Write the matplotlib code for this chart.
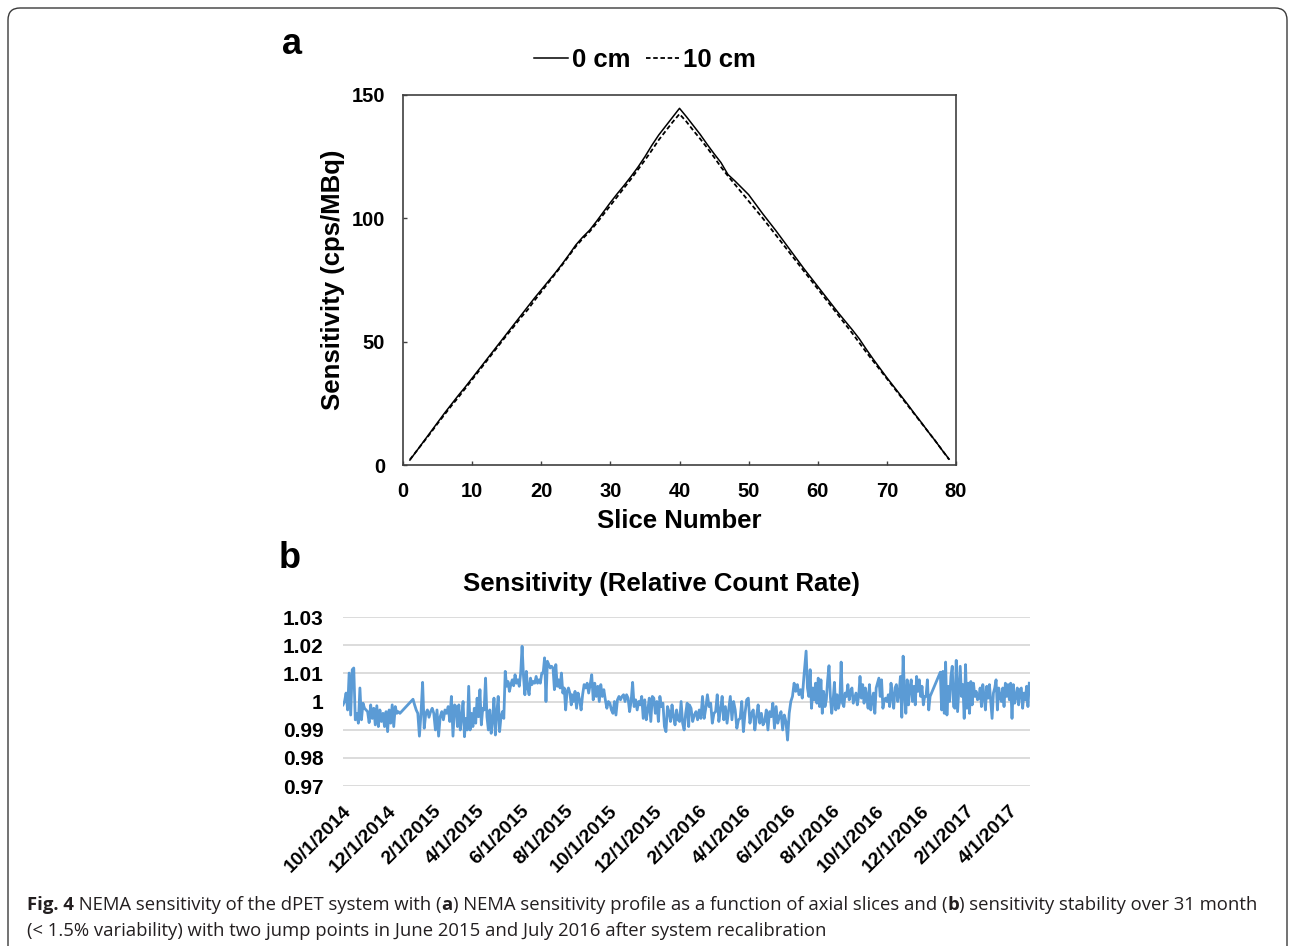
import numpy as np
import pandas as pd
import matplotlib
matplotlib.use('Agg')
import matplotlib.pyplot as plt
from matplotlib.lines import Line2D
from matplotlib.patches import FancyBboxPatch

plt.rcParams['font.family'] = ['Liberation Sans', 'DejaVu Sans']

# ---- panel a: NEMA sensitivity profile ----
slices = list(range(1, 80))
sens_0cm = [2.0, 5.8, 9.6, 13.4, 17.2, 21.0, 24.6, 28.2, 31.6, 35.2,
            38.8, 42.4, 46.0, 49.6, 53.2, 56.8, 60.4, 64.0, 67.6, 71.0,
            74.4, 77.8, 81.4, 85.2, 89.2, 92.4, 95.2, 98.8, 102.6, 106.4,
            110.0, 113.4, 117.0, 120.8, 125.0, 129.6, 133.8, 137.4, 141.0, 144.6,
            141.2, 137.6, 134.0, 130.0, 126.2, 122.6, 117.8, 115.2, 112.4, 109.6,
            105.8, 102.0, 98.4, 94.8, 91.0, 87.2, 83.4, 79.6, 76.0, 72.4,
            68.8, 65.2, 61.6, 58.2, 54.8, 51.2, 47.0, 43.0, 39.2, 35.4,
            31.8, 28.2, 24.6, 20.8, 17.2, 13.4, 9.8, 6.0, 2.4]
sens_10cm = [2.2, 5.8, 9.4, 13.0, 16.8, 20.4, 24.0, 27.4, 31.0, 34.6,
             38.2, 41.8, 45.4, 49.0, 52.6, 56.0, 59.6, 62.8, 66.6, 70.2,
             73.8, 77.4, 81.0, 84.8, 88.6, 91.8, 94.6, 98.0, 101.6, 105.2,
             108.8, 112.4, 116.0, 119.8, 123.6, 127.6, 131.8, 135.4, 139.0, 142.3,
             139.2, 135.6, 132.2, 128.6, 124.8, 120.8, 117.2, 113.8, 110.4, 107.0,
             103.6, 100.2, 96.6, 93.0, 89.4, 85.8, 82.2, 78.6, 75.0, 71.4,
             67.8, 64.2, 60.6, 57.0, 53.4, 49.6, 45.8, 42.2, 38.6, 35.0,
             31.4, 27.8, 24.2, 20.6, 17.0, 13.4, 9.8, 6.0, 2.2]

# ---- panel b: relative count rate, one block per stretch of dates ----
rate_1 = [0.9988, 1.0000, 1.0030, 0.9970, 1.0101, 0.9952, 1.0113, 1.0119, 0.9935, 0.9958,
          0.9923, 1.0048, 0.9935, 0.9994, 0.9976, 0.9970, 0.9964, 0.9925, 0.9988, 0.9940,
          0.9976, 0.9917, 0.9985, 0.9911, 0.9970, 0.9929, 0.9958, 0.9911, 0.9964, 0.9893,
          0.9970, 0.9923, 0.9988, 0.9911, 0.9982, 0.9958, 0.9964, 0.9958]
rate_2 = [1.0008, 0.9988, 0.9970, 0.9958, 0.9877, 0.9958, 1.0068, 0.9905, 0.9958, 0.9970,
          0.9944, 0.9964, 0.9976, 0.9958, 0.9899, 0.9970, 0.9877, 0.9946, 0.9964, 0.9935,
          0.9970, 0.9958, 0.9982, 0.9929, 1.0018, 0.9877, 0.9988]
rate_3 = [0.9982, 0.9911, 0.9988, 0.9899, 0.9946, 1.0000, 0.9875, 0.9940, 0.9899, 1.0054,
          0.9899, 0.9958, 0.9911, 0.9976, 0.9923, 1.0012, 0.9946, 1.0042, 0.9917, 0.9976,
          0.9970, 1.0083, 0.9946, 0.9899, 0.9970, 0.9887, 0.9935, 1.0012, 0.9881, 0.9958,
          1.0018, 0.9893, 0.9946, 0.9964, 0.9940, 1.0107, 1.0054, 1.0071, 1.0036, 1.0060,
          1.0077, 1.0056, 1.0095, 1.0065, 1.0077, 1.0054, 1.0101, 1.0196, 1.0089, 1.0024,
          1.0107, 1.0048, 1.0024, 1.0083, 1.0060, 1.0071, 1.0065, 1.0089, 1.0065, 1.0077,
          1.0065, 1.0101, 1.0101, 1.0155, 1.0000, 1.0143, 1.0131, 1.0119, 1.0125, 1.0119,
          1.0042, 1.0131, 1.0054, 1.0077, 1.0048, 1.0101, 1.0030, 1.0048, 0.9970, 1.0036,
          1.0048, 1.0030, 0.9988]
rate_4 = [1.0024, 1.0000, 1.0036, 0.9976, 1.0030, 1.0006, 0.9970, 1.0024, 1.0060, 1.0048,
          1.0065, 1.0030, 1.0060, 1.0095, 1.0006, 1.0065, 1.0018, 1.0054, 1.0000, 1.0060,
          1.0018, 1.0042, 1.0006, 0.9976, 1.0000, 0.9994, 0.9970, 0.9958, 1.0000, 0.9952,
          1.0006, 1.0018, 1.0006, 1.0018, 1.0024, 1.0000, 1.0024, 1.0012, 0.9964, 1.0000,
          1.0068, 0.9982, 1.0006, 0.9970, 1.0000, 0.9988, 1.0018, 0.9940, 1.0006, 0.9935,
          0.9970, 1.0012, 0.9929, 1.0018, 1.0012, 0.9958, 1.0000, 0.9929, 1.0018, 0.9982,
          0.9994, 0.9911, 0.9893, 0.9982, 0.9964, 0.9929, 0.9988, 0.9946, 0.9917, 0.9970,
          0.9935, 0.9929, 1.0000, 0.9923, 0.9899, 0.9958, 0.9994, 0.9911]
rate_5 = [0.9988, 0.9976, 0.9929, 0.9952, 0.9964, 0.9935, 0.9970, 0.9940, 1.0018, 0.9940,
          0.9976, 1.0024, 0.9982, 0.9994, 0.9923, 0.9958, 0.9964, 1.0024, 0.9929, 0.9970,
          1.0018, 0.9935, 0.9982, 0.9923, 0.9970, 1.0018, 0.9935, 1.0000, 0.9970, 0.9905,
          0.9935, 0.9940, 1.0000, 0.9893, 0.9958, 1.0006, 1.0012, 0.9923, 0.9958, 0.9970,
          0.9899, 0.9946, 0.9988, 0.9923, 0.9958, 0.9917, 0.9929, 0.9970, 0.9899, 0.9964,
          0.9946, 0.9994, 0.9905, 0.9982, 0.9923, 0.9946, 0.9964, 0.9899, 0.9952, 0.9929,
          0.9863, 0.9958, 1.0000, 1.0018, 1.0065, 1.0036, 1.0060, 1.0024, 1.0042, 1.0012,
          1.0089]
rate_6 = [1.0179, 1.0048, 1.0018, 1.0113, 0.9976, 1.0048, 1.0006, 1.0065, 0.9994, 1.0083,
          0.9982, 1.0077, 0.9958, 1.0036, 0.9982, 1.0006, 1.0077, 1.0127, 1.0018, 0.9958,
          1.0000, 1.0068, 0.9970, 1.0024, 0.9976, 1.0000, 1.0140, 0.9994, 0.9982, 1.0030,
          1.0018, 1.0060, 1.0006, 1.0036, 1.0048, 0.9994, 1.0012, 1.0030, 0.9988, 1.0018,
          1.0089, 1.0012, 1.0060, 0.9994, 1.0048, 1.0018, 0.9976, 1.0060, 0.9970, 1.0006,
          1.0030, 0.9958, 1.0048, 1.0065, 1.0083, 1.0018, 1.0077, 0.9976, 1.0006, 1.0012,
          1.0000, 1.0024, 0.9982, 1.0065, 1.0018, 0.9976, 1.0048, 1.0060, 1.0000, 1.0030,
          1.0089, 0.9944, 1.0161, 1.0030, 0.9958, 1.0077, 0.9988, 1.0048, 1.0077, 1.0000,
          1.0054, 0.9988, 1.0089, 1.0036, 1.0077, 1.0018, 1.0054, 0.9988, 1.0018, 1.0018,
          1.0077, 0.9970, 1.0018]
rate_7 = [1.0104, 0.9970, 1.0107, 0.9958, 1.0140, 0.9952, 1.0054, 1.0000, 1.0089, 1.0125,
          0.9982, 0.9976, 1.0146, 0.9964, 1.0048, 1.0125, 1.0018, 1.0060, 0.9940, 1.0131,
          0.9976, 1.0065, 0.9958, 1.0071, 0.9988, 1.0065, 1.0018, 1.0036, 1.0006, 1.0012,
          1.0048, 0.9982, 1.0060, 1.0018, 0.9970, 1.0054, 1.0012, 1.0060, 1.0000, 0.9940,
          1.0030, 1.0048, 1.0077, 0.9970, 1.0048, 1.0018, 1.0000, 1.0048, 0.9982, 1.0065,
          1.0018, 1.0060, 1.0006, 1.0065, 0.9940, 1.0060, 0.9994, 1.0018, 1.0048, 0.9988,
          1.0042, 1.0048, 0.9976, 1.0030, 1.0006, 1.0054, 0.9982, 1.0065]
rate_blocks = [('2014-10-01', '2014-12-18', rate_1),
               ('2015-01-05', '2015-03-03', rate_2),
               ('2015-03-05', '2015-08-10', rate_3),
               ('2015-08-11', '2016-01-18', rate_4),
               ('2016-01-19', '2016-06-24', rate_5),
               ('2016-06-27', '2016-12-14', rate_6),
               ('2016-12-28', '2017-04-29', rate_7)]

b_yticks = [0.97, 0.98, 0.99, 1.00, 1.01, 1.02, 1.03]
b_ylabels = ['0.97', '0.98', '0.99', '1', '1.01', '1.02', '1.03']
b_xticks = pd.date_range('2014-10-01', '2017-04-01', freq='2MS')

# ---- figure ----
W, H = 1292, 946
fig = plt.figure(figsize=(W / 100, H / 100), dpi=100)

# frame round the whole figure
frame = FancyBboxPatch((8, -30), 1279, H - 8 + 30, boxstyle='round,pad=0,rounding_size=12',
                       transform=None, fill=False, edgecolor='#3a3a3a', linewidth=1.0)
fig.patches.append(frame)

# panel a
ax = fig.add_axes([403 / W, 1 - 465 / H, 553 / W, 370 / H])
ax.plot(slices, sens_0cm, color='black', lw=1.1, label='0 cm')
ax.plot(slices, sens_10cm, color='black', lw=1.3, linestyle=(0, (2.5, 1.5)), label='10 cm')
ax.set_xlim(0, 80)
ax.set_ylim(0, 150)
ax.set_xticks(range(0, 81, 10))
ax.set_yticks([0, 50, 100, 150])
for s in ax.spines.values():
    s.set_color('#404040')
    s.set_linewidth(1.2)
ax.tick_params(direction='in', length=3, width=1, colors='#404040', labelcolor='black',
               labelsize=14.5)
ax.tick_params(axis='y', pad=13)
ax.tick_params(axis='x', pad=12)
for lab in ax.get_xticklabels() + ax.get_yticklabels():
    lab.set_fontweight('bold')
ax.set_xlabel('Slice Number', fontsize=18.5, fontweight='bold')
ax.set_ylabel('Sensitivity (cps/MBq)', fontsize=18.5, fontweight='bold')
ax.xaxis.set_label_coords(0.5, -0.12)
ax.yaxis.set_label_coords(-0.105, 0.5)

handles = [Line2D([], [], color='black', lw=1.1),
           Line2D([], [], color='black', lw=1.3, linestyle=(0, (2.5, 1.5)))]
fig.legend(handles, ['0 cm', '10 cm'], loc='center', ncol=2, frameon=False,
           bbox_to_anchor=(645 / W, 1 - 60 / H), prop={'size': 18.5, 'weight': 'bold'},
           handlelength=1.3, handletextpad=0.15, columnspacing=0.6)
fig.text(282 / W, 1 - 44 / H, 'a', fontsize=26, fontweight='bold', va='center')

# panel b: Excel joins the holiday gaps with straight segments, so one line
b_dates = []
b_rate = []
for start, end, vals in rate_blocks:
    b_dates.extend(pd.date_range(start, end, periods=len(vals)))
    b_rate.extend(vals)

bx = fig.add_axes([343 / W, 1 - 786 / H, 687 / W, 169 / H])
bx.plot(b_dates, b_rate, color='#5b9bd5', lw=2.0, solid_joinstyle='round')
bx.set_ylim(0.97, 1.03)
bx.set_xlim(pd.Timestamp('2014-10-01'), pd.Timestamp('2017-04-30'))
bx.set_yticks(b_yticks)
bx.set_yticklabels(b_ylabels, fontsize=15, fontweight='bold')
bx.set_xticks(b_xticks)
bx.set_xticklabels([f'{d.month}/{d.day}/{d.year}' for d in b_xticks], fontsize=14,
                   fontweight='bold', rotation=45, ha='right', rotation_mode='anchor')
bx.grid(axis='y', color='#d9d9d9', lw=1.3)
bx.set_axisbelow(True)
for s in bx.spines.values():
    s.set_visible(False)
bx.tick_params(length=0)
bx.tick_params(axis='y', pad=14)
bx.tick_params(axis='x', pad=12)
fig.text(661 / W, 1 - 584 / H, 'Sensitivity (Relative Count Rate)', fontsize=18.5,
         fontweight='bold', ha='center', va='center')
fig.text(279 / W, 1 - 558 / H, 'b', fontsize=26, fontweight='bold', va='center')

# caption, drawn piece by piece so some words can be bold
renderer = fig.canvas.get_renderer()


def caption_line(x, y, pieces, size=13.3):
    for txt, weight in pieces:
        t = fig.text(x, y, txt, fontsize=size, fontweight=weight, family='Open Sans',
                     color='#231f20', va='baseline')
        x += t.get_window_extent(renderer).width / W


caption_line(27 / W, 1 - 910 / H,
             [('Fig. 4', 'bold'), (' NEMA sensitivity of the dPET system with (', 'normal'),
              ('a', 'bold'),
              (') NEMA sensitivity profile as a function of axial slices and (', 'normal'),
              ('b', 'bold'), (') sensitivity stability over 31 month', 'normal')])
caption_line(27 / W, 1 - 936 / H,
             [('(< 1.5% variability) with two jump points in June 2015 and July 2016 '
               'after system recalibration', 'normal')])

fig.savefig('out.png', dpi=100)
